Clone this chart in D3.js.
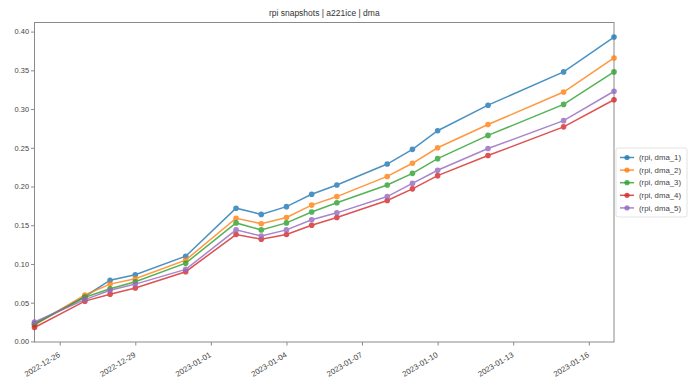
<!DOCTYPE html>
<html>
<head>
<meta charset="utf-8">
<script src="https://cdn.jsdelivr.net/npm/d3@7"></script>
<style>
  body { margin: 0; background: #fff; }
  svg { display: block; font-family: "Liberation Sans", "DejaVu Sans", sans-serif; }
  .axis path, .axis line { stroke: #8a8a8a; }
  .axis text { fill: #444; }
</style>
</head>
<body>
<svg id="chart" width="693" height="385"></svg>
<script>
// snapshot dates
const dates = ["2022-12-25", "2022-12-27", "2022-12-28", "2022-12-29", "2022-12-31",
  "2023-01-02", "2023-01-03", "2023-01-04", "2023-01-05", "2023-01-06",
  "2023-01-08", "2023-01-09", "2023-01-10", "2023-01-12", "2023-01-15", "2023-01-17"];

const dma1 = [0.023, 0.058, 0.079, 0.086, 0.110, 0.172, 0.164, 0.174, 0.190, 0.202, 0.229, 0.248, 0.272, 0.305, 0.348, 0.393];
const dma2 = [0.021, 0.060, 0.074, 0.081, 0.105, 0.159, 0.152, 0.160, 0.176, 0.187, 0.213, 0.230, 0.250, 0.280, 0.322, 0.366];
const dma3 = [0.022, 0.057, 0.068, 0.077, 0.101, 0.153, 0.144, 0.153, 0.167, 0.179, 0.202, 0.217, 0.236, 0.266, 0.306, 0.348];
const dma4 = [0.018, 0.052, 0.061, 0.069, 0.090, 0.138, 0.132, 0.138, 0.150, 0.160, 0.182, 0.197, 0.214, 0.240, 0.277, 0.312];
const dma5 = [0.025, 0.054, 0.066, 0.074, 0.093, 0.144, 0.136, 0.144, 0.157, 0.166, 0.187, 0.204, 0.221, 0.249, 0.285, 0.323];

const seriesNames = ["(rpi, dma_1)", "(rpi, dma_2)", "(rpi, dma_3)", "(rpi, dma_4)", "(rpi, dma_5)"];
const seriesColors = ["#1f77b4", "#ff7f0e", "#2ca02c", "#d62728", "#9467bd"];

const xTickLabels = ["2022-12-26", "2022-12-29", "2023-01-01", "2023-01-04",
  "2023-01-07", "2023-01-10", "2023-01-13", "2023-01-16"];
const yTickValues = [0, 0.05, 0.10, 0.15, 0.20, 0.25, 0.30, 0.35, 0.40];

const title = "rpi snapshots | a221ice | dma";

// layout
const margin = { top: 22.5, right: 79, bottom: 43, left: 34.5 };
const width = 693, height = 385;
const parse = d3.utcParse("%Y-%m-%d");

const series = [dma1, dma2, dma3, dma4, dma5].map((vals, i) => ({
  name: seriesNames[i],
  color: seriesColors[i],
  points: vals.map((v, j) => ({ date: parse(dates[j]), value: v }))
}));

const svg = d3.select("#chart");

const x = d3.scaleUtc()
  .domain(d3.extent(dates, parse))
  .range([margin.left, width - margin.right]);

// matplotlib-style 5% vertical padding
const allVals = [].concat(dma1, dma2, dma3, dma4, dma5);
const [lo, hi] = d3.extent(allVals);
const pad = (hi - lo) * 0.05;
const y = d3.scaleLinear()
  .domain([lo - pad, hi + pad])
  .range([height - margin.bottom, margin.top]);

// frame
svg.append("rect")
  .attr("x", margin.left)
  .attr("y", margin.top)
  .attr("width", width - margin.right - margin.left)
  .attr("height", height - margin.bottom - margin.top)
  .attr("fill", "none")
  .attr("stroke", "#8a8a8a")
  .attr("stroke-width", 1);

// y axis
svg.append("g")
  .attr("class", "axis")
  .attr("transform", `translate(${margin.left},0)`)
  .call(d3.axisLeft(y).tickValues(yTickValues).tickFormat(d3.format(".2f")).tickSize(3.5).tickPadding(2))
  .call(g => g.select(".domain").remove())
  .call(g => g.selectAll("text").attr("font-size", 7.4));

// x axis, rotated labels
svg.append("g")
  .attr("class", "axis")
  .attr("transform", `translate(0,${height - margin.bottom})`)
  .call(d3.axisBottom(x).tickValues(xTickLabels.map(parse)).tickFormat(d3.utcFormat("%Y-%m-%d")).tickSize(3.5))
  .call(g => g.select(".domain").remove())
  .call(g => g.selectAll("text")
    .attr("font-size", 7.8)
    .attr("text-anchor", "end")
    .attr("x", 0)
    .attr("y", 0)
    .attr("dy", "0.35em")
    .attr("transform", "translate(-1,12) rotate(-31)"));

// title
svg.append("text")
  .attr("x", (margin.left + width - margin.right) / 2)
  .attr("y", 16)
  .attr("text-anchor", "middle")
  .attr("font-size", 8.5)
  .attr("fill", "#333")
  .text(title);

// lines and markers
const line = d3.line().x(d => x(d.date)).y(d => y(d.value));

const plot = svg.append("g");
series.forEach(s => {
  const g = plot.append("g").attr("opacity", 0.8);
  g.append("path")
    .datum(s.points)
    .attr("d", line)
    .attr("fill", "none")
    .attr("stroke", s.color)
    .attr("stroke-width", 1.5);
  g.selectAll("circle")
    .data(s.points)
    .join("circle")
    .attr("cx", d => x(d.date))
    .attr("cy", d => y(d.value))
    .attr("r", 2.8)
    .attr("fill", s.color);
});

// legend
const legendX = width - margin.right + 2;
const legendY = 148;
const legend = svg.append("g").attr("transform", `translate(${legendX},${legendY})`);
legend.append("rect")
  .attr("width", 71)
  .attr("height", 69)
  .attr("rx", 2)
  .attr("fill", "rgba(255,255,255,0.8)")
  .attr("stroke", "#dcdcdc")
  .attr("stroke-width", 0.8);

const entries = legend.selectAll(".legend-entry")
  .data(series)
  .join("g")
  .attr("class", "legend-entry")
  .attr("transform", (d, i) => `translate(4, ${9.5 + i * 12.6})`);

entries.append("line")
  .attr("x1", 0).attr("x2", 14)
  .attr("stroke", d => d.color)
  .attr("stroke-width", 1.5)
  .attr("opacity", 0.8);
entries.append("circle")
  .attr("cx", 7)
  .attr("r", 2.6)
  .attr("fill", d => d.color)
  .attr("opacity", 0.8);
entries.append("text")
  .attr("x", 19)
  .attr("dy", "0.35em")
  .attr("font-size", 7.8)
  .attr("fill", "#444")
  .text(d => d.name);
</script>
</body>
</html>
